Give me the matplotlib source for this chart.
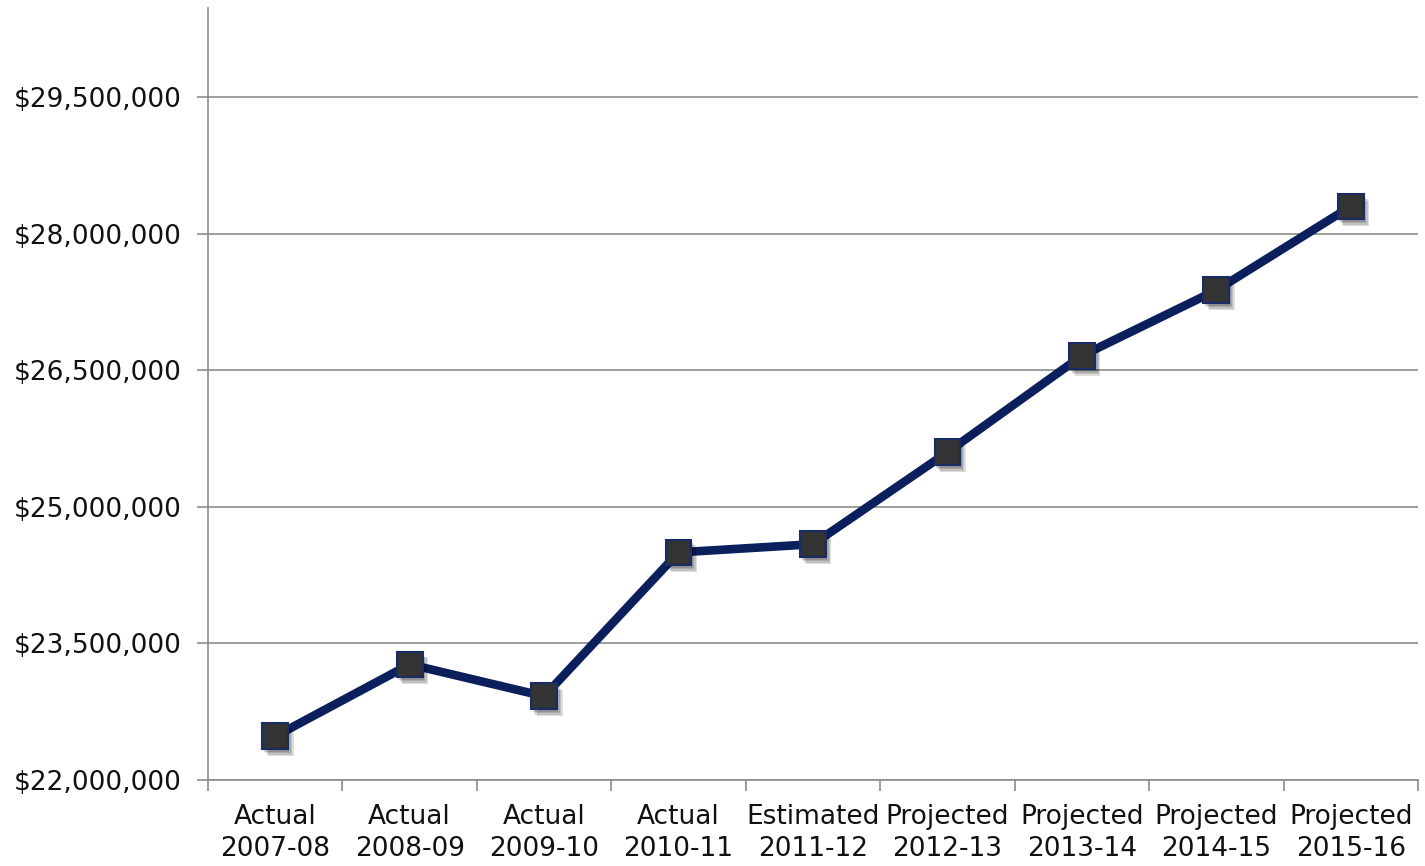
import matplotlib
matplotlib.use("Agg")
import matplotlib.pyplot as plt
import matplotlib.patheffects as pe
from matplotlib.ticker import FuncFormatter

categories = ["Actual\n2007-08", "Actual\n2008-09", "Actual\n2009-10", "Actual\n2010-11",
              "Estimated\n2011-12", "Projected\n2012-13", "Projected\n2013-14",
              "Projected\n2014-15", "Projected\n2015-16"]
values = [22480000, 23270000, 22920000, 24500000, 24590000,
          25600000, 26660000, 27380000, 28300000]
yticks = [22000000, 23500000, 25000000, 26500000, 28000000, 29500000]

fig = plt.figure(figsize=(14.25, 8.66), dpi=100)
ax = fig.add_axes([208/1425, 86/866, 1210/1425, 858/866 - 86/866])

x = list(range(len(categories)))
ax.plot(x, values, color="#0b1f5c", linewidth=6.2, solid_capstyle="butt", zorder=3)
shadow = [pe.SimplePatchShadow(offset=(o, -o - 1), alpha=0.13, shadow_rgbFace="black")
          for o in (1, 2, 3, 4)]
ax.plot(x, values, linestyle="none", marker="s", markersize=18.5,
        markerfacecolor="#333333", markeredgecolor="#1a2c66", markeredgewidth=1.5,
        zorder=4, path_effects=shadow + [pe.Normal()])

ax.set_xlim(-0.5, len(categories) - 0.5)
ax.set_ylim(22000000, 30480000)
ax.set_yticks(yticks)
ax.yaxis.set_major_formatter(FuncFormatter(lambda v, p: "${:,.0f}".format(v)))
ax.grid(axis="y", color="#8c8c8c", linewidth=1.2, zorder=0)
ax.set_axisbelow(True)

ax.set_xticks([i - 0.5 for i in range(len(categories) + 1)])
ax.set_xticklabels([])
ax.set_xticks(x, minor=True)
ax.set_xticklabels(categories, minor=True, fontsize=19, linespacing=1.3, color="#111111")
ax.tick_params(axis="x", which="minor", length=0, pad=17)
ax.tick_params(axis="x", which="major", length=8, width=1.2, color="#8c8c8c")
ax.tick_params(axis="y", length=8, width=1.2, color="#8c8c8c", labelsize=19, pad=11,
               labelcolor="#111111")

for s in ["top", "right"]:
    ax.spines[s].set_visible(False)
for s in ["left", "bottom"]:
    ax.spines[s].set_color("#8c8c8c")
    ax.spines[s].set_linewidth(1.2)

fig.savefig("out.png", dpi=100)
